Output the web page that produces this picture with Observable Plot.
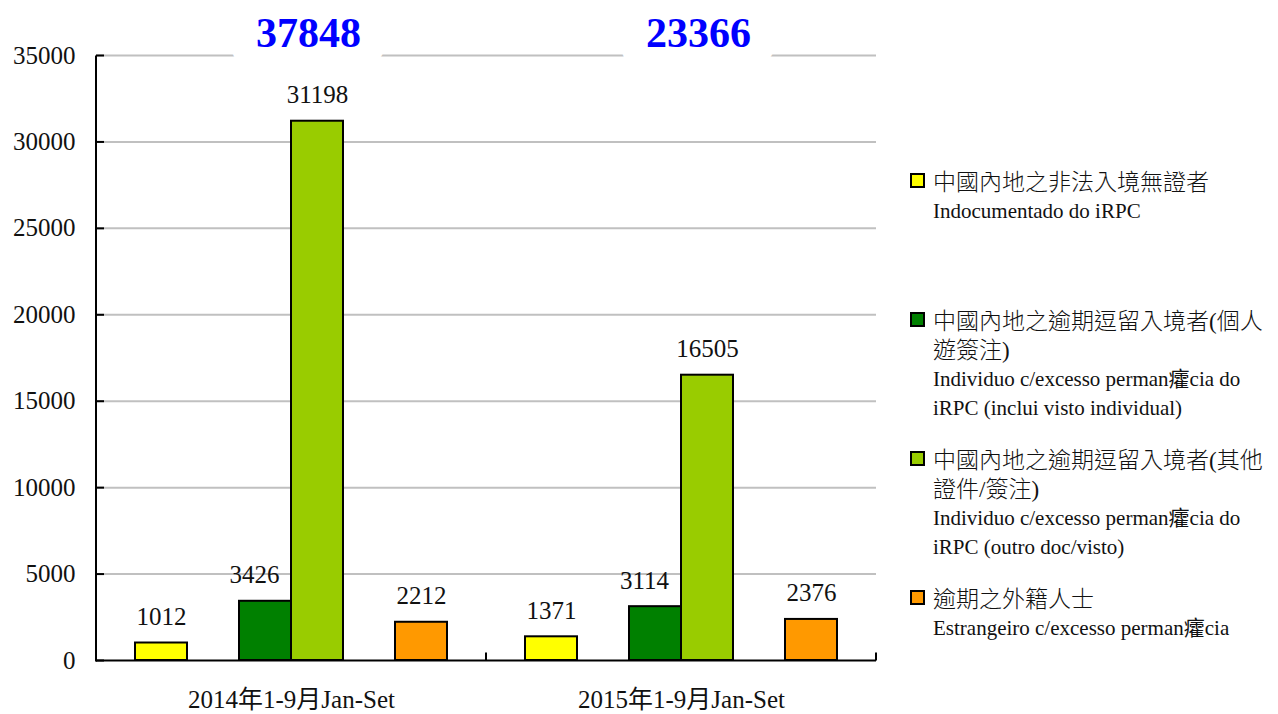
<!DOCTYPE html>
<html>
<head>
<meta charset="utf-8">
<script src="https://cdn.jsdelivr.net/npm/d3@7"></script>
<script src="https://cdn.jsdelivr.net/npm/@observablehq/plot@0.6"></script>
<style>
  html, body { margin: 0; padding: 0; background: #fff; }
  #wrap { position: relative; width: 1278px; height: 714px; overflow: hidden; }
  .legend { position: absolute; left: 909px; top: 168px; width: 369px;
            font-family: 'Liberation Serif', 'Noto Sans CJK TC', serif; color: #111; }
  .item { position: relative; height: 139px; }
  .sw { position: absolute; left: 1px; top: 5px; width: 11px; height: 11px; border: 2px solid #000; }
  .txt { position: absolute; left: 24px; top: 0; white-space: nowrap; }
  .zh { font-size: 23px; line-height: 29px; height: 29px; font-weight: 300; }
  .pt { font-size: 21px; line-height: 29px; height: 29px; }
</style>
</head>
<body>
<div id="wrap"></div>
<script>
// ---- data ----
const groups = ["2014年1-9月Jan-Set", "2015年1-9月Jan-Set"];
const totals = [37848, 23366];
const seriesKeys = ["s1", "s2", "s3", "s4"];
const slotKeys = ["s1", "gapA", "s2", "s3", "gapB", "s4"];
const seriesColors = ["#ffff00", "#008000", "#99cc00", "#ff9900"];
const illegalMainland = [1012, 1371];
const overstayIndividual = [3426, 3114];
const overstayOther = [31198, 16505];
const overstayForeign = [2212, 2376];
const yTicks = [0, 5000, 10000, 15000, 20000, 25000, 30000, 35000];
const legendZh = [
  ["中國內地之非法入境無證者"],
  ["中國內地之逾期逗留入境者(個人", "遊簽注)"],
  ["中國內地之逾期逗留入境者(其他", "證件/簽注)"],
  ["逾期之外籍人士"]
];
const legendPt = [
  ["Indocumentado do iRPC"],
  ["Individuo c/excesso perman癨cia do", "iRPC (inclui visto individual)"],
  ["Individuo c/excesso perman癨cia do", "iRPC (outro doc/visto)"],
  ["Estrangeiro c/excesso perman癨cia"]
];

const seriesValues = [illegalMainland, overstayIndividual, overstayOther, overstayForeign];
const rows = [];
groups.forEach((g, i) => seriesKeys.forEach((k, j) => rows.push({group: g, key: k, value: seriesValues[j][i]})));
const totalRows = groups.map((g, i) => ({group: g, total: totals[i]}));

const font = "'Liberation Serif', 'Noto Sans CJK TC', serif";
const SVGNS = "http://www.w3.org/2000/svg";

let facetCalls = 0;
function axisDecor(index, scales, values, dims, ctx, next) {
  const g = next(index, scales, values, dims, ctx);
  const line = g.querySelector("line");
  if (!line) return g;
  const parent = line.parentNode;
  const mk = (x1, y1, x2, y2) => {
    const t = document.createElementNS(SVGNS, "line");
    t.setAttribute("x1", x1); t.setAttribute("x2", x2);
    t.setAttribute("y1", y1); t.setAttribute("y2", y2);
    parent.appendChild(t);
  };
  const xl = +line.getAttribute("x1"), xr = +line.getAttribute("x2"), y0 = +line.getAttribute("y1");
  // tick at the right edge of each category
  mk(xr, y0, xr, y0 - 8);
  if (facetCalls++ === 0) {
    // value axis line and inward ticks (first facet only)
    const yTop = scales.y(yTicks[yTicks.length - 1]);
    mk(xl, y0 + 1, xl, yTop);
    yTicks.forEach(v => { const yy = scales.y(v); mk(xl, yy, xl + 8, yy); });
  }
  return g;
}

const chart = Plot.plot({
  width: 1278,
  height: 714,
  marginLeft: 96,
  marginRight: 402,
  marginTop: 55,
  marginBottom: 54,
  style: {fontFamily: font, background: "white", overflow: "visible", color: "#111"},
  fx: {domain: groups, paddingInner: 0, paddingOuter: 0, axis: null},
  x: {domain: slotKeys, paddingInner: 0, paddingOuter: 0.75, axis: null},
  y: {domain: [0, 35000], axis: null},
  color: {domain: seriesKeys, range: seriesColors},
  marks: [
    Plot.gridY(yTicks.filter(d => d > 0), {stroke: "#c0c0c0", strokeOpacity: 1, strokeWidth: 2}),
    Plot.text(totalRows, {fx: "group", y: () => 35000, text: d => String(d.total), dx: 17, dy: -22,
      fontSize: 42, fontWeight: "bold", fill: "#0000ff", stroke: "white", strokeWidth: 52}),
    Plot.axisY(yTicks, {tickSize: 0, tickPadding: 21, fontSize: 25, tickFormat: d => String(d), fill: "#111", label: null}),
    Plot.barY(rows, {fx: "group", x: "key", y: "value", fill: "key", stroke: "#000", strokeWidth: 2}),
    Plot.text(rows.filter(d => d.key !== "s2"), {fx: "group", x: "key", y: "value", text: d => String(d.value),
      dy: -26, fontSize: 25, fill: "#111"}),
    Plot.text(rows.filter(d => d.key === "s2"), {fx: "group", x: "key", y: "value", text: d => String(d.value),
      dy: -26, dx: -11, fontSize: 25, fill: "#111"}),
    Plot.ruleY([0], {stroke: "#000", strokeWidth: 2, render: axisDecor}),
    Plot.axisFx({anchor: "bottom", tickSize: 0, tickPadding: 30, fontSize: 25, label: null, fill: "#111"})
  ]
});

const wrap = document.getElementById("wrap");
wrap.appendChild(chart);

const legend = document.createElement("div");
legend.className = "legend";
seriesKeys.forEach((k, j) => {
  const item = document.createElement("div");
  item.className = "item";
  const sw = document.createElement("span");
  sw.className = "sw";
  sw.style.background = seriesColors[j];
  item.appendChild(sw);
  const txt = document.createElement("div");
  txt.className = "txt";
  legendZh[j].forEach(s => { const d = document.createElement("div"); d.className = "zh"; d.textContent = s; txt.appendChild(d); });
  legendPt[j].forEach(s => { const d = document.createElement("div"); d.className = "pt"; d.textContent = s; txt.appendChild(d); });
  item.appendChild(txt);
  legend.appendChild(item);
});
wrap.appendChild(legend);
</script>
</body>
</html>
